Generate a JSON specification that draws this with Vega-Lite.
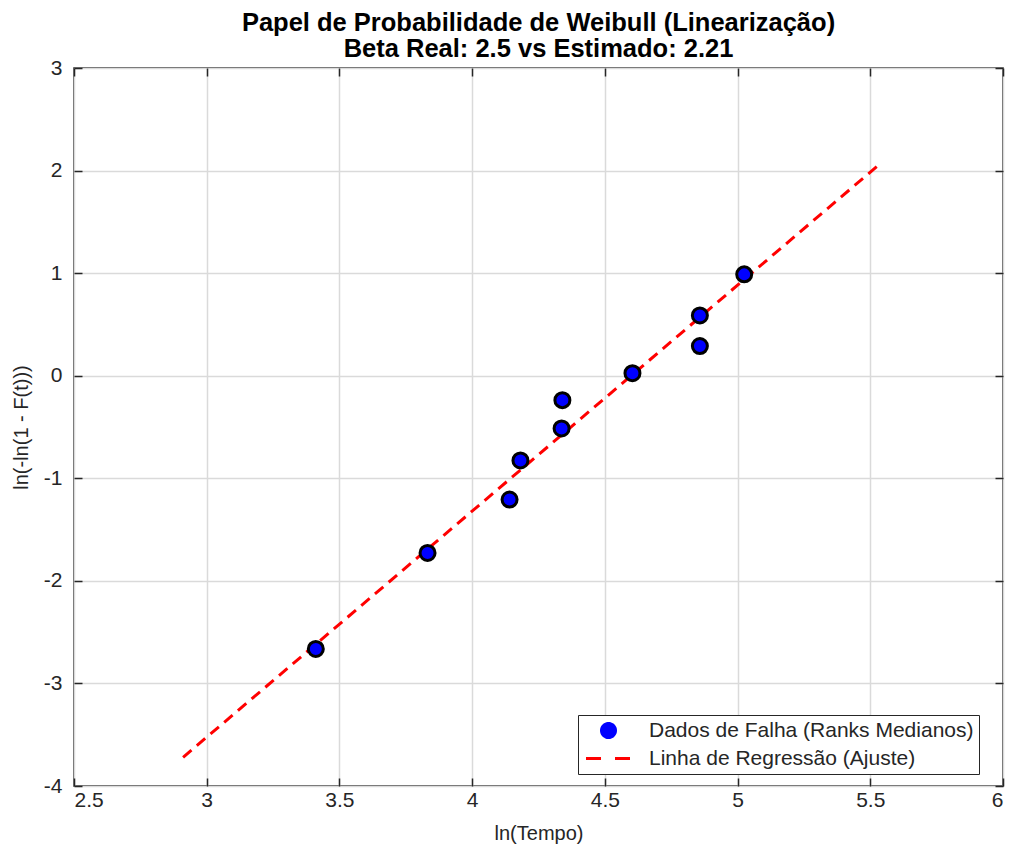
{
  "$schema": "https://vega.github.io/schema/vega-lite/v6.json",
  "width": 929,
  "height": 718,
  "autosize": "none",
  "padding": {"left": 74, "top": 68, "right": 14, "bottom": 64},
  "background": "white",
  "config": {
    "font": "Liberation Sans",
    "view": {"stroke": "#262626", "strokeWidth": 1.5},
    "axis": {
      "domain": false,
      "gridColor": "#dadada",
      "gridWidth": 1.5,
      "tickColor": "#262626",
      "tickWidth": 1.5,
      "tickSize": -8,
      "labelFont": "Liberation Sans",
      "labelFontSize": 21,
      "labelColor": "#262626",
      "titleFont": "Liberation Sans",
      "titleFontSize": 20,
      "titleFontWeight": "normal",
      "titleColor": "#262626"
    }
  },
  "title": {
    "text": ["Papel de Probabilidade de Weibull (Linearização)", "Beta Real: 2.5 vs Estimado: 2.21"],
    "fontSize": 25.5,
    "fontWeight": "bold",
    "color": "#000000",
    "lineHeight": 26,
    "anchor": "middle",
    "offset": -5,
    "font": "Liberation Sans"
  },
  "datasets": {
    "pontos": [
      {"x": 3.411, "y": -2.664},
      {"x": 3.832, "y": -1.728},
      {"x": 4.141, "y": -1.207},
      {"x": 4.182, "y": -0.826},
      {"x": 4.337, "y": -0.514},
      {"x": 4.340, "y": -0.238},
      {"x": 4.604, "y": 0.025},
      {"x": 4.858, "y": 0.289},
      {"x": 4.858, "y": 0.588},
      {"x": 5.025, "y": 0.988}
    ],
    "reta": [
      {"x": 2.911, "y": -3.72},
      {"x": 5.525, "y": 2.04}
    ]
  },
  "resolve": {"axis": {"x": "independent", "y": "independent"}},
  "layer": [
    {
      "data": {"name": "reta"},
      "mark": {"type": "line", "strokeWidth": 3, "strokeDash": [11, 7]},
      "encoding": {
        "x": {"field": "x", "type": "quantitative", "scale": {"domain": [2.5, 6], "nice": false, "zero": false},
              "axis": {"orient": "top", "labels": false, "title": null, "grid": false, "values": [2.5, 3, 3.5, 4, 4.5, 5, 5.5, 6]}},
        "y": {"field": "y", "type": "quantitative", "scale": {"domain": [-4, 3], "nice": false, "zero": false},
              "axis": {"orient": "right", "labels": false, "title": null, "grid": false, "values": [-4, -3, -2, -1, 0, 1, 2, 3]}},
        "color": {"datum": "Linha de Regressão (Ajuste)", "type": "nominal",
                  "scale": {"domain": ["Dados de Falha (Ranks Medianos)", "Linha de Regressão (Ajuste)"], "range": ["#0000ff", "#ff0000"]},
                  "legend": {
                    "title": null,
                    "orient": "none",
                    "legendX": 504,
                    "legendY": 647,
                    "strokeColor": "#262626",
                    "fillColor": "white",
                    "padding": 5,
                    "labelFontSize": 21,
                    "labelFont": "Liberation Sans",
                    "labelColor": "#262626",
                    "labelOffset": 30,
                    "labelLimit": 600,
                    "symbolSize": 2025,
                    "symbolOffset": 15,
                    "rowPadding": 3,
                    "encode": {
                      "symbols": {
                        "update": {
                          "shape": {"signal": "datum.index === 1 ? 'stroke' : 'circle'"},
                          "size": {"signal": "datum.index === 1 ? 2025 : 196"},
                          "fill": {"signal": "datum.index === 1 ? 'transparent' : '#0000ff'"},
                          "stroke": {"signal": "datum.index === 1 ? '#ff0000' : '#000000'"},
                          "strokeWidth": {"value": 3},
                          "strokeDash": {"signal": "datum.index === 1 ? [15, 14] : [1, 0]"},
                          "opacity": {"value": 1}
                        }
                      }
                    }
                  }}
      }
    },
    {
      "data": {"name": "pontos"},
      "mark": {"type": "point", "filled": true, "stroke": "#000000", "strokeWidth": 3, "size": 225, "opacity": 1},
      "encoding": {
        "x": {"field": "x", "type": "quantitative", "scale": {"domain": [2.5, 6], "nice": false, "zero": false},
              "axis": {"orient": "bottom", "grid": true, "title": "ln(Tempo)", "values": [2.5, 3, 3.5, 4, 4.5, 5, 5.5, 6], "labelExpr": "'' + datum.value", "labelPadding": 11, "titlePadding": 13}},
        "y": {"field": "y", "type": "quantitative", "scale": {"domain": [-4, 3], "nice": false, "zero": false},
              "axis": {"orient": "left", "grid": true, "title": "ln(-ln(1 - F(t)))", "values": [-4, -3, -2, -1, 0, 1, 2, 3], "labelExpr": "'' + datum.value", "labelPadding": 20, "titlePadding": 12}},
        "color": {"datum": "Dados de Falha (Ranks Medianos)", "type": "nominal"}
      }
    }
  ]
}
